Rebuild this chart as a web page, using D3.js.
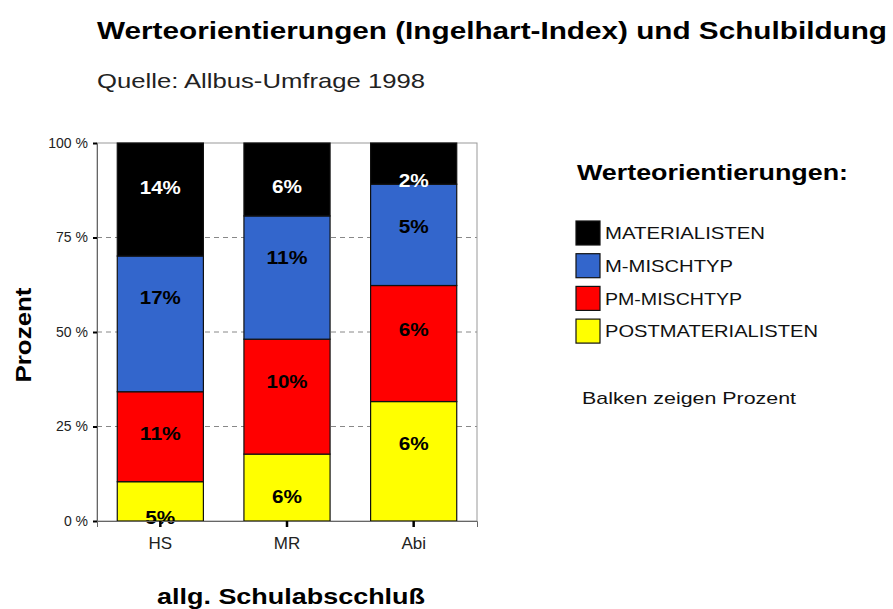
<!DOCTYPE html>
<html>
<head>
<meta charset="utf-8">
<script src="https://cdn.jsdelivr.net/npm/d3@7"></script>
<style>
  body { margin: 0; background: #fff; }
  text { font-family: "Liberation Sans", Arial, sans-serif; }
</style>
</head>
<body>
<svg id="chart" width="893" height="609"></svg>
<script>
// categories
const schools = ["HS", "MR", "Abi"];
const series = ["POSTMATERIALISTEN", "PM-MISCHTYP", "M-MISCHTYP", "MATERIALISTEN"];
const colours = ["#ffff00", "#ff0000", "#3366cc", "#000000"];

// share of each segment (percent of bar), bottom to top
const postValues = [10.4, 17.7, 31.6];
const pmValues = [23.8, 30.4, 30.7];
const mValues = [35.9, 32.6, 26.8];
const matValues = [29.9, 19.3, 10.9];

// the printed labels and where they sit (percent units)
const postLabels = ["5%", "6%", "6%"];
const pmLabels = ["11%", "10%", "6%"];
const mLabels = ["17%", "11%", "5%"];
const matLabels = ["14%", "6%", "2%"];
const postLabelAt = [1.1, 6.7, 20.6];
const pmLabelAt = [23.3, 36.9, 50.7];
const mLabelAt = [59.3, 69.7, 78.0];
const matLabelAt = [88.4, 88.6, 90.2];

const yTicks = [0, 25, 50, 75, 100];
const yTickLabels = ["0 %", "25 %", "50 %", "75 %", "100 %"];

const legendOrder = ["MATERIALISTEN", "M-MISCHTYP", "PM-MISCHTYP", "POSTMATERIALISTEN"];
const legendWidths = [160, 128, 137, 213];

const allValues = [postValues, pmValues, mValues, matValues];
const allLabels = [postLabels, pmLabels, mLabels, matLabels];
const allLabelAt = [postLabelAt, pmLabelAt, mLabelAt, matLabelAt];

const table = schools.map((s, i) => {
    const row = { school: s };
    series.forEach((k, j) => { row[k] = allValues[j][i]; });
    return row;
});

const svg = d3.select("#chart");
const margin = { top: 143, left: 97, right: 416, bottom: 88 };
const width = 893 - margin.left - margin.right;
const height = 609 - margin.top - margin.bottom;

const x = d3.scaleBand().domain(schools).range([0, width]).paddingInner(0.32).paddingOuter(0.16);
const y = d3.scaleLinear().domain([0, 100]).range([height, 0]);
const colour = d3.scaleOrdinal().domain(series).range(colours);

const stacked = d3.stack().keys(series)(table);

// the reference font runs wider than Liberation Sans, so stretch to measured widths
function fit(sel, len){
    sel.attr("textLength", len).attr("lengthAdjust", "spacingAndGlyphs");
}

// titles
svg.append("text")
    .attr("x", 97).attr("y", 39)
    .attr("font-size", 23).attr("font-weight", "bold")
    .text("Werteorientierungen (Ingelhart-Index) und Schulbildung")
    .call(fit, 790);

svg.append("text")
    .attr("x", 97).attr("y", 88)
    .attr("font-size", 21).attr("fill", "#222")
    .text("Quelle: Allbus-Umfrage 1998")
    .call(fit, 328);

const g = svg.append("g").attr("transform", `translate(${margin.left},${margin.top})`);

// grid
g.selectAll("line.grid").data([25, 50, 75]).enter()
    .append("line")
        .attr("class", "grid")
        .attr("x1", 0).attr("x2", width)
        .attr("y1", d => y(d)).attr("y2", d => y(d))
        .attr("stroke", "#888")
        .attr("stroke-dasharray", "5,4");

// frame
g.append("rect")
    .attr("width", width).attr("height", height)
    .attr("fill", "none").attr("stroke", "#999");

// bars
const layer = g.selectAll("g.layer").data(stacked).enter()
    .append("g")
        .attr("class", "layer")
        .attr("fill", d => colour(d.key));

layer.selectAll("rect").data(d => d).enter()
    .append("rect")
        .attr("x", d => x(d.data.school))
        .attr("y", d => y(d[1]))
        .attr("width", x.bandwidth())
        .attr("height", d => y(d[0]) - y(d[1]))
        .attr("stroke", "#111")
        .attr("stroke-width", 1.2);

// bar labels
stacked.forEach((s, j) => {
    g.selectAll(null).data(schools).enter()
        .append("text")
            .attr("x", d => x(d) + x.bandwidth() / 2)
            .attr("y", (d, i) => y(allLabelAt[j][i]))
            .attr("dy", "0.36em")
            .attr("text-anchor", "middle")
            .attr("font-size", 19).attr("font-weight", "bold")
            .attr("fill", s.key === "MATERIALISTEN" ? "#fff" : "#000")
            .text((d, i) => allLabels[j][i])
            .each(function(d, i){
                const n = allLabels[j][i].length;
                d3.select(this).call(fit, n === 3 ? 41 : 30);
            });
});

// y axis
const yAxis = d3.axisLeft(y).tickValues(yTicks).tickFormat((d, i) => yTickLabels[i]).tickSize(4);
g.append("g")
    .call(yAxis)
    .call(a => a.select(".domain").attr("stroke", "#666"))
    .call(a => a.selectAll(".tick line").attr("stroke", "#000").attr("stroke-width", 2))
    .call(a => a.selectAll(".tick text").attr("font-size", 14).attr("fill", "#222").attr("x", -9)
        .style("font-family", "'Liberation Sans', Arial, sans-serif"));

// x axis
const xAxis = d3.axisBottom(x).tickSize(6).tickPadding(10);
g.append("g")
    .attr("transform", `translate(0,${height})`)
    .call(xAxis)
    .call(a => a.select(".domain").attr("stroke", "#666"))
    .call(a => a.selectAll(".tick line").attr("stroke", "#000").attr("stroke-width", 2.5))
    .call(a => a.selectAll(".tick text").attr("font-size", 17).attr("fill", "#222")
        .style("font-family", "'Liberation Sans', Arial, sans-serif"));

// axis titles
svg.append("text")
    .attr("transform", "translate(31,335) rotate(-90)")
    .attr("text-anchor", "middle")
    .attr("font-size", 22).attr("font-weight", "bold")
    .text("Prozent")
    .call(fit, 95);

svg.append("text")
    .attr("x", 291).attr("y", 604)
    .attr("text-anchor", "middle")
    .attr("font-size", 22).attr("font-weight", "bold")
    .text("allg. Schulabscchluß")
    .call(fit, 268);

// legend
const legend = svg.append("g").attr("transform", "translate(576,0)");
legend.append("text")
    .attr("x", 1).attr("y", 180)
    .attr("font-size", 22).attr("font-weight", "bold")
    .text("Werteorientierungen:")
    .call(fit, 271);

const item = legend.selectAll("g.item").data(legendOrder).enter()
    .append("g")
        .attr("class", "item")
        .attr("transform", (d, i) => `translate(0,${221 + i * 32.7})`);
item.append("rect")
    .attr("width", 24).attr("height", 24)
    .attr("fill", d => colour(d))
    .attr("stroke", "#111").attr("stroke-width", 1.2);
item.append("text")
    .attr("x", 29).attr("y", 12).attr("dy", "0.36em")
    .attr("font-size", 17).attr("fill", "#111")
    .text(d => d)
    .each(function(d, i){ d3.select(this).call(fit, legendWidths[i]); });

legend.append("text")
    .attr("x", 6).attr("y", 398).attr("dy", "0.36em")
    .attr("font-size", 17).attr("fill", "#111")
    .text("Balken zeigen Prozent")
    .call(fit, 214);
</script>
</body>
</html>
